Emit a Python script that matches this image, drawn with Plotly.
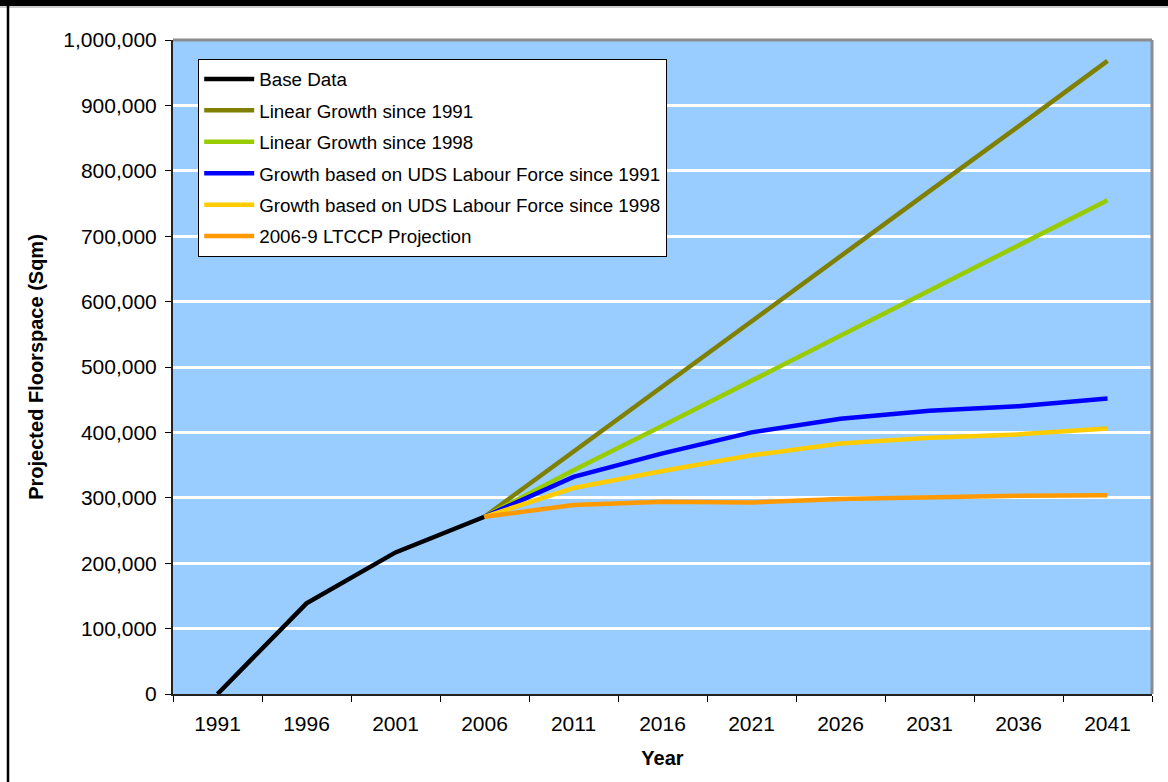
import plotly.graph_objects as go

# Years on the category axis
years = ["1991", "1996", "2001", "2006", "2011", "2016", "2021", "2026", "2031", "2036", "2041"]
proj_years = years[3:]

# Observed floorspace (sqm)
base_data = [0, 138500, 216500, 271000]

# Projections from 2006 onwards (sqm)
linear_1991 = [271000, 371000, 470000, 570000, 669000, 769000, 868000, 968000]
linear_1998 = [271000, 342000, 410000, 479000, 548000, 617000, 686000, 755000]
uds_1991 = [271000, 332000, 368000, 400000, 421000, 433000, 440000, 452000]
uds_1998 = [271000, 315000, 341000, 365000, 383000, 392000, 397000, 406000]
ltccp = [271000, 289000, 294000, 293000, 298000, 301000, 303000, 304000]

y_ticks = list(range(0, 1000001, 100000))
y_tick_text = [f"{v:,}" for v in y_ticks]

FONT = "Liberation Sans, Arial, sans-serif"
W, H = 1168, 782
L, R, T, B = 173, 16, 40, 88
PW, PH = W - L - R, H - T - B


def px_x(p):
    return (p - L) / PW


def px_y(p):
    return (H - B - p) / PH


series = [
    ("Base Data", years[:4], base_data, "#000000"),
    ("Linear Growth since 1991", proj_years, linear_1991, "#808000"),
    ("Linear Growth since 1998", proj_years, linear_1998, "#99CC00"),
    ("Growth based on UDS Labour Force since 1991", proj_years, uds_1991, "#0000FF"),
    ("Growth based on UDS Labour Force since 1998", proj_years, uds_1998, "#FFCC00"),
    ("2006-9 LTCCP Projection", proj_years, ltccp, "#FF9900"),
]

fig = go.Figure()
for i, (name, xs, ys, color) in enumerate(series):
    fig.add_trace(go.Scatter(
        x=xs, y=ys, name=name, mode="lines",
        line=dict(color=color, width=4.5),
        legendgroup=f"g{i}",
    ))

fig.update_layout(
    width=W, height=H,
    margin=dict(l=L, r=R, t=T, b=B, pad=0),
    paper_bgcolor="white",
    plot_bgcolor="#99CCFF",
    font=dict(family=FONT, size=21, color="black"),
    showlegend=True,
    legend=dict(
        x=px_x(198), y=px_y(59), xanchor="left", yanchor="top",
        bgcolor="white", bordercolor="black", borderwidth=1.2,
        font=dict(family=FONT, size=18.8, color="black"),
        itemwidth=50, tracegroupgap=4,
        traceorder="grouped",
    ),
    xaxis=dict(
        type="category", categoryorder="array", categoryarray=years,
        range=[-0.5, 10.5],
        tickson="boundaries", ticks="outside", ticklen=6, tickcolor="black",
        ticklabelstandoff=10,
        showline=True, linecolor="#222222", linewidth=2,
        showgrid=False, zeroline=False,
        tickfont=dict(size=21),
        title=dict(text="<b>Year</b>", font=dict(size=20), standoff=17),
    ),
    yaxis=dict(
        range=[0, 1000000],
        tickvals=y_ticks, ticktext=y_tick_text,
        ticks="outside", ticklen=6, tickcolor="black",
        ticklabelstandoff=4,
        showline=True, linecolor="#222222", linewidth=2,
        showgrid=True, gridcolor="white", gridwidth=2.5,
        zeroline=False,
        tickfont=dict(size=21),
        title=dict(text="<b>Projected Floorspace (Sqm)</b>", font=dict(size=20), standoff=14),
    ),
    shapes=[
        # grey frame along the top and right of the plot area
        dict(type="line", xref="paper", yref="paper", x0=0, x1=1, y0=1, y1=1,
             line=dict(color="#8C8C8C", width=3)),
        dict(type="line", xref="paper", yref="paper", x0=1, x1=1, y0=0, y1=1,
             line=dict(color="#8C8C8C", width=3)),
        # page frame: heavy bar on top, thin rule on the left
        dict(type="rect", xref="paper", yref="paper",
             x0=px_x(0), x1=px_x(W), y0=px_y(6), y1=px_y(0),
             fillcolor="black", line=dict(width=0)),
        dict(type="line", xref="paper", yref="paper",
             x0=px_x(0), x1=px_x(W), y0=px_y(7), y1=px_y(7),
             line=dict(color="#9A9A9A", width=1)),
        dict(type="line", xref="paper", yref="paper",
             x0=px_x(8), x1=px_x(8), y0=px_y(0), y1=px_y(H),
             line=dict(color="black", width=2.5)),
    ],
)

fig.write_html("out.html")
